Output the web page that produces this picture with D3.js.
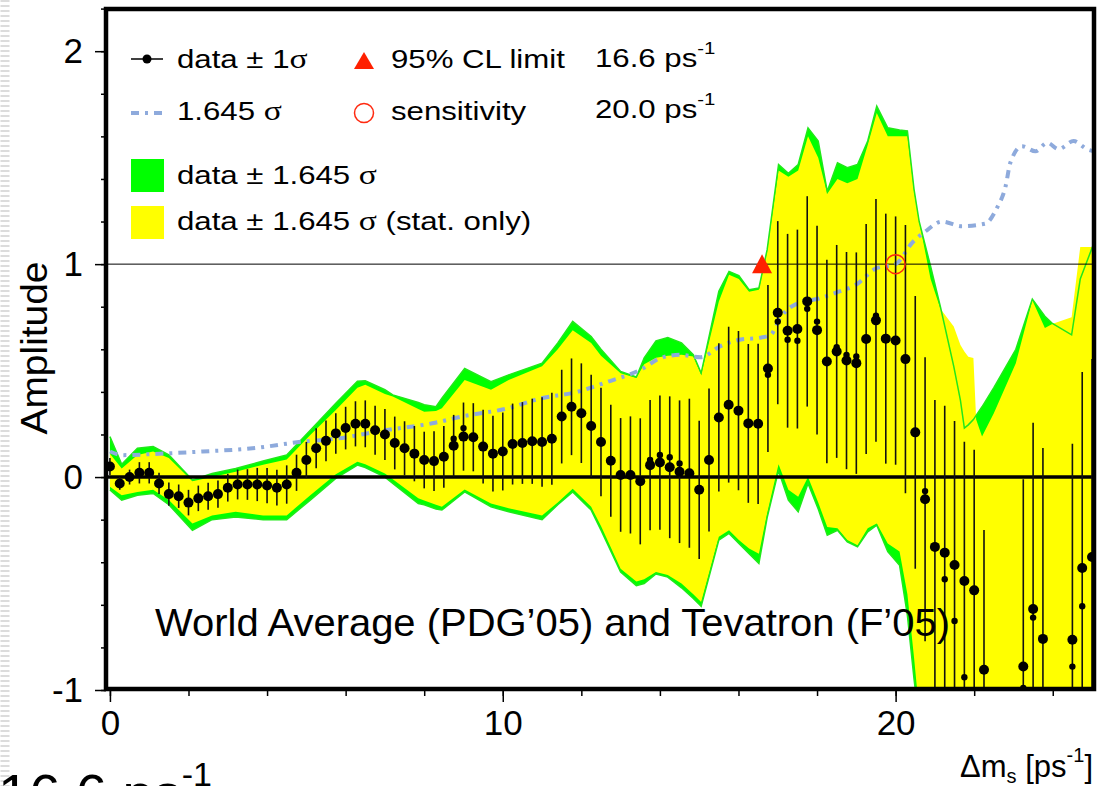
<!DOCTYPE html>
<html>
<head>
<meta charset="utf-8">
<script src="https://cdn.jsdelivr.net/npm/d3@7"></script>
<style>
    body { margin: 0; background: #fff; }
    svg { display: block; font-family: "Liberation Sans", Arial, Helvetica, sans-serif; }
</style>
</head>
<body>
<svg width="1109" height="786"></svg>
<script>
const width = 1109;
const height = 786;

//--------------------data--------------------
// amplitude scan, one point every 0.25 ps-1 starting at 0
const dmStep = 0.25;
const amp = [
    0.05, -0.03, 0.00, 0.02, 0.02, -0.03, -0.08, -0.09, -0.12, -0.10,
    -0.09, -0.08, -0.05, -0.035, -0.035, -0.035, -0.04, -0.05, -0.035, 0.02,
    0.08, 0.135, 0.17, 0.205, 0.23, 0.25, 0.25, 0.22, 0.20, 0.16,
    0.135, 0.11, 0.08, 0.075, 0.095, 0.147, 0.19, 0.187, 0.143, 0.11,
    0.12, 0.155, 0.16, 0.168, 0.165, 0.18, 0.284, 0.33, 0.30, 0.24,
    0.165, 0.077, 0.01, 0.01, -0.02, 0.056, 0.068, 0.046, 0.025, 0.018,
    -0.06, 0.08, 0.28, 0.34, 0.312, 0.252, 0.25, 0.51, 0.772, 0.687,
    0.695, 0.825, 0.69, 0.543, 0.59, 0.547, 0.535, 0.648, 0.736, 0.65,
    0.641, 0.554, 0.21, -0.104, -0.328, -0.355, -0.413, -0.488, -0.532, -0.905,
    -2.1, -2.3, -2.0, -0.89, -0.62, -0.76, -2.2, -2.4, -0.764, -0.427,
    -0.375
];
// 1 sigma error of each point
const sigma = [
    0.04, 0.03, 0.035, 0.05, 0.05, 0.05, 0.055, 0.055, 0.06, 0.06,
    0.063, 0.064, 0.065, 0.07, 0.072, 0.078, 0.083, 0.084, 0.09, 0.085,
    0.085, 0.094, 0.096, 0.095, 0.10, 0.106, 0.11, 0.115, 0.12, 0.124,
    0.127, 0.13, 0.133, 0.14, 0.145, 0.145, 0.16, 0.16, 0.173, 0.178,
    0.183, 0.19, 0.192, 0.20, 0.21, 0.216, 0.22, 0.227, 0.234, 0.24,
    0.255, 0.263, 0.267, 0.275, 0.296, 0.306, 0.315, 0.333, 0.335, 0.35,
    0.325, 0.336, 0.348, 0.366, 0.374, 0.373, 0.376, 0.392, 0.43, 0.455,
    0.467, 0.494, 0.49, 0.478, 0.50, 0.51, 0.52, 0.54, 0.57, 0.587,
    0.583, 0.63, 0.64, 0.667, 0.69, 0.69, 0.676, 0.654, 0.66, 0.656,
    0.70, 0.72, 0.75, 0.88, 0.875, 0.896, 0.90, 0.90, 0.92, 0.92,
    0.93
];
// smaller markers
const smallX = [8.75, 9.0, 13.75, 14.0, 14.25, 14.5, 16.75, 17.0, 17.25, 17.5, 17.75, 18.0,
    18.5, 18.75, 19.0, 19.5, 20.75, 21.25, 21.5, 21.75, 23.25, 23.5, 24.5, 24.75];
const smallAmp = [0.18, 0.23, 0.08, 0.104, 0.093, 0.064, 0.48, 0.73, 0.645, 0.64, 0.79, 0.73,
    0.61, 0.574, 0.566, 0.758, -0.066, -0.48, -0.676, -0.94, -0.99, -0.66, -0.89, -0.607];

// 1.645 sigma curve
const sensX = [0, 0.33, 1.09, 2.36, 3.63, 4.89, 5.74, 7.01, 8.28, 8.95, 10.13, 10.98, 11.83, 12.68,
    13.52, 14.02, 14.5, 15.04, 15.54, 16.06, 16.5, 16.82, 17.06, 17.56, 17.99, 18.5, 19.0, 19.5,
    20.0, 20.42, 20.76, 21.18, 21.69, 22.28, 22.58, 22.8, 22.92, 23.22, 23.56, 23.86, 24.15,
    24.53, 24.87, 25.05];
const sensY = [0.12, 0.103, 0.108, 0.12, 0.135, 0.166, 0.18, 0.22, 0.255, 0.284, 0.323, 0.37, 0.397, 0.448,
    0.505, 0.559, 0.574, 0.563, 0.615, 0.646, 0.653, 0.668, 0.747, 0.82, 0.836, 0.867, 0.904, 0.98,
    1.0, 1.1, 1.154, 1.2, 1.178, 1.19, 1.264, 1.366, 1.476, 1.554, 1.53, 1.57, 1.54,
    1.578, 1.54, 1.53];

// data +- 1.645 sigma bands (green: total, yellow: stat. only)
const bandX = [0, 0.3, 0.7, 1.1, 1.5, 2.1, 2.6, 3.2, 3.9, 4.5,
    5.1, 5.75, 6.3, 6.5, 7.0, 7.2, 7.85, 8.0, 8.3, 8.45,
    9.03, 9.7, 10.15, 11.0, 11.4, 11.78, 12.25, 12.5, 13.0, 13.4,
    13.6, 13.9, 14.2, 14.55, 14.85, 15.05, 15.5, 15.76, 16.01, 16.27,
    16.52, 16.73, 17.02, 17.27, 17.52, 17.77, 18.03, 18.26, 18.52, 18.77,
    19.03, 19.29, 19.52, 19.8, 20.1, 20.3, 20.47, 20.6, 20.89, 21.14,
    21.48, 21.65, 21.75, 21.85, 21.98, 22.05, 22.2, 22.5, 23.06, 23.48,
    23.8, 24.0, 24.48, 24.7, 25.05];
const greenUp = [0.19, 0.06, 0.135, 0.143, 0.104, -0.014, 0.017, 0.04, 0.075, 0.104,
    0.22, 0.347, 0.45, 0.452, 0.41, 0.386, 0.35, 0.34, 0.33, 0.37,
    0.51, 0.448, 0.48, 0.535, 0.63, 0.731, 0.66, 0.6, 0.496, 0.47,
    0.56, 0.64, 0.655, 0.63, 0.575, 0.488, 0.873, 0.966, 0.946, 0.88,
    0.888, 1.068, 1.468, 1.426, 1.468, 1.64, 1.578, 1.342, 1.476, 1.453,
    1.468, 1.578, 1.742, 1.64, 1.63, 1.625, 1.35, 1.2, 0.99, 0.8,
    0.52, 0.36, 0.23, 0.245, 0.27, 0.29, 0.33, 0.42, 0.6, 0.836,
    0.755, 0.72, 0.668, 0.93, 1.1];
const yellowUp = [0.11, 0.04, 0.104, 0.12, 0.09, -0.02, 0.0, 0.025, 0.058, 0.083,
    0.198, 0.315, 0.42, 0.433, 0.39, 0.378, 0.32, 0.307, 0.31, 0.323,
    0.456, 0.41, 0.456, 0.52, 0.6, 0.69, 0.63, 0.57, 0.488, 0.465,
    0.53, 0.56, 0.57, 0.574, 0.566, 0.48, 0.825, 0.95, 0.93, 0.87,
    0.88, 1.06, 1.44, 1.41, 1.44, 1.6, 1.5, 1.33, 1.4, 1.38,
    1.4, 1.56, 1.71, 1.6, 1.6, 1.6, 1.34, 1.2, 0.93, 0.79,
    0.707, 0.62, 0.59, 0.565, 0.559, 0.27, 0.19, 0.3, 0.535, 0.83,
    0.70, 0.72, 0.75, 1.08, 1.08];
const yellowLow = [-0.045, -0.085, -0.07, -0.06, -0.108, -0.218, -0.18, -0.163, -0.18, -0.18,
    -0.085, 0.013, 0.072, 0.06, 0.017, -0.01, -0.1, -0.11, -0.13, -0.14,
    -0.058, -0.124, -0.147, -0.18, -0.12, -0.055, -0.14, -0.23, -0.43, -0.49,
    -0.48, -0.446, -0.46, -0.5, -0.55, -0.587, -0.28, -0.25, -0.296, -0.336,
    -0.36, -0.17, 0.06, -0.06, -0.093, 0.0, -0.12, -0.234, -0.24, -0.296,
    -0.32, -0.24, -0.218, -0.312, -0.35, -0.55, -0.85, -1.1, -1.3, -1.3,
    -1.3, -1.3, -1.3, -1.3, -1.3, -1.3, -1.3, -1.3, -1.3, -1.3,
    -1.3, -1.3, -1.3, -1.3, -1.3];
const greenLow = [-0.06, -0.108, -0.085, -0.077, -0.13, -0.25, -0.2, -0.187, -0.2, -0.2,
    -0.108, -0.006, 0.056, 0.045, 0.0, -0.03, -0.124, -0.13, -0.15, -0.155,
    -0.07, -0.14, -0.163, -0.2, -0.13, -0.07, -0.155, -0.25, -0.446, -0.51,
    -0.5, -0.455, -0.47, -0.52, -0.57, -0.607, -0.296, -0.265, -0.312, -0.36,
    -0.406, -0.19, 0.03, -0.108, -0.163, -0.03, -0.15, -0.273, -0.25, -0.304,
    -0.328, -0.257, -0.226, -0.35, -0.414, -0.65, -0.95, -1.15, -1.3, -1.3,
    -1.3, -1.3, -1.3, -1.3, -1.3, -1.3, -1.3, -1.3, -1.3, -1.3,
    -1.3, -1.3, -1.3, -1.3, -1.3];

const limitPoint = [16.6, 1];
const sensPoint = [20.0, 1];

const xTicks = [0, 10, 20];
const xMinorTicks = [0, 2, 4, 6, 8, 10, 12, 14, 16, 18, 20, 22, 24];
const yTicks = [-1, 0, 1, 2];
const yTickLabels = ["-1", "0", "1", "2"];
const yMinorTicks = [-1, -0.8, -0.6, -0.4, -0.2, 0, 0.2, 0.4, 0.6, 0.8, 1, 1.2, 1.4, 1.6, 1.8, 2, 2.2];

const legendValues = ["16.6", "20.0"];
const noteText = "World Average (PDG\u201905) and Tevatron (F\u201905)";

//--------------------scales--------------------
const x = d3.scaleLinear().domain([-0.1, 25.05]).range([106, 1094]);
const y = d3.scaleLinear().domain([-1, 2.2]).range([690, 8.6]);

const svg = d3.select("svg");

svg.append("defs").append("clipPath")
    .attr("id", "plot")
    .append("rect")
    .attr("x", 106).attr("y", 9)
    .attr("width", 988).attr("height", 680);

//--------------------page decoration--------------------
function drawPageBits() {
    // dashed slide border on the far left
    svg.append("line")
        .attr("x1", 5).attr("y1", 0)
        .attr("x2", 5).attr("y2", height)
        .attr("stroke", "#dcdcdc")
        .attr("stroke-width", 9)
        .attr("stroke-dasharray", "2,3");

    // big text of the slide below, only its top shows
    const t = svg.append("text")
        .attr("x", -2)
        .attr("y", 813)
        .attr("font-size", 56)
        .attr("fill", "#000")
        .text(legendValues[0] + " ps");
    t.append("tspan")
        .attr("dy", -27)
        .attr("font-size", 34)
        .text("-1");
}

//--------------------bands--------------------
function drawBands() {
    const g = svg.append("g").attr("clip-path", "url(#plot)");
    const idx = d3.range(bandX.length);

    const green = d3.area()
        .x(i => x(bandX[i]))
        .y0(i => y(greenLow[i]))
        .y1(i => y(greenUp[i]));
    const yellow = d3.area()
        .x(i => x(bandX[i]))
        .y0(i => y(yellowLow[i]))
        .y1(i => y(yellowUp[i]));

    g.append("path").datum(idx).attr("d", green).attr("fill", "#00ff00");
    g.append("path").datum(idx).attr("d", yellow).attr("fill", "#ffff00");

    // thin green outline of the total band
    const upLine = d3.line().x(i => x(bandX[i])).y(i => y(greenUp[i]));
    const lowLine = d3.line().x(i => x(bandX[i])).y(i => y(greenLow[i]));
    [upLine, lowLine].forEach(l => {
        g.append("path").datum(idx).attr("d", l)
            .attr("fill", "none")
            .attr("stroke", "#22e81a")
            .attr("stroke-width", 1.5);
    });
}

//--------------------reference lines + sensitivity curve--------------------
function drawLines() {
    const g = svg.append("g").attr("clip-path", "url(#plot)");

    g.append("line")
        .attr("x1", 106).attr("x2", 1094)
        .attr("y1", y(1)).attr("y2", y(1))
        .attr("stroke", "#000")
        .attr("stroke-width", 1);

    g.append("line")
        .attr("x1", 106).attr("x2", 1094)
        .attr("y1", y(0)).attr("y2", y(0))
        .attr("stroke", "#000")
        .attr("stroke-width", 3.5);

    const sens = d3.line()
        .x(i => x(sensX[i]))
        .y(i => y(sensY[i]))
        .curve(d3.curveMonotoneX);

    g.append("path")
        .datum(d3.range(sensX.length))
        .attr("d", sens)
        .attr("fill", "none")
        .attr("stroke", "#8eaadc")
        .attr("stroke-width", 4)
        .attr("stroke-dasharray", "8,6,3,6");
}

//--------------------points--------------------
function drawPoints() {
    const g = svg.append("g").attr("clip-path", "url(#plot)");

    g.selectAll(".err")
        .data(amp)
        .enter()
        .append("line")
        .attr("x1", (d, i) => x(i * dmStep))
        .attr("x2", (d, i) => x(i * dmStep))
        .attr("y1", (d, i) => y(d - sigma[i]))
        .attr("y2", (d, i) => y(d + sigma[i]))
        .attr("stroke", "#111")
        .attr("stroke-width", 1.6);

    g.selectAll(".dot")
        .data(amp)
        .enter()
        .append("circle")
        .attr("cx", (d, i) => x(i * dmStep))
        .attr("cy", d => y(d))
        .attr("r", 5)
        .attr("fill", "#000");

    g.selectAll(".sdot")
        .data(smallAmp)
        .enter()
        .append("circle")
        .attr("cx", (d, i) => x(smallX[i]))
        .attr("cy", d => y(d))
        .attr("r", 3.2)
        .attr("fill", "#000");

    // 95% CL limit and sensitivity markers
    const tx = x(limitPoint[0]);
    const ty = y(limitPoint[1]);
    g.append("path")
        .attr("d", `M${tx},${ty - 10}L${tx + 10},${ty + 9}L${tx - 10},${ty + 9}Z`)
        .attr("fill", "#ff2000");

    g.append("circle")
        .attr("cx", x(sensPoint[0]))
        .attr("cy", y(sensPoint[1]))
        .attr("r", 9.5)
        .attr("fill", "none")
        .attr("stroke", "#ff2a10")
        .attr("stroke-width", 1.5);
}

//--------------------axes + frame--------------------
function drawAxes() {
    const yMinor = d3.axisLeft(y).tickValues(yMinorTicks).tickSize(5).tickFormat("");
    const yMajor = d3.axisLeft(y).tickValues(yTicks).tickSize(11).tickPadding(12)
        .tickFormat((d, i) => yTickLabels[i]);
    const xMinor = d3.axisBottom(x).tickValues(xMinorTicks).tickSize(7).tickFormat("");
    const xMajor = d3.axisBottom(x).tickValues(xTicks).tickSize(13).tickPadding(8);

    svg.append("g").attr("transform", "translate(106,0)").call(yMinor);
    svg.append("g").attr("transform", "translate(106,0)").call(yMajor);
    svg.append("g").attr("transform", "translate(0,689)").call(xMinor);
    svg.append("g").attr("transform", "translate(0,689)").call(xMajor);

    svg.selectAll(".domain").remove();
    svg.selectAll(".tick line").attr("stroke", "#000").attr("stroke-width", 1.5);
    svg.selectAll(".tick text")
        .attr("font-size", 35)
        .attr("font-family", "Liberation Sans, Arial, sans-serif")
        .attr("fill", "#000");

    svg.append("rect")
        .attr("x", 106).attr("y", 9)
        .attr("width", 988).attr("height", 680)
        .attr("fill", "none")
        .attr("stroke", "#000")
        .attr("stroke-width", 4.5);

    // axis titles
    svg.append("text")
        .attr("transform", "translate(47,348) rotate(-90)")
        .attr("text-anchor", "middle")
        .attr("font-size", 36)
        .attr("textLength", 173)
        .attr("lengthAdjust", "spacingAndGlyphs")
        .text("Amplitude");

    const xt = svg.append("text")
        .attr("x", 1093)
        .attr("y", 777)
        .attr("text-anchor", "end")
        .attr("font-size", 31);
    xt.append("tspan").text("\u0394m");
    xt.append("tspan").attr("font-size", 20).attr("dy", 6).text("s");
    xt.append("tspan").attr("dy", -6).text(" [ps");
    xt.append("tspan").attr("font-size", 20).attr("dy", -15).text("-1");
    xt.append("tspan").attr("dy", 15).text("]");

    svg.append("text")
        .attr("x", 155)
        .attr("y", 636)
        .attr("font-size", 39)
        .attr("textLength", 795)
        .attr("lengthAdjust", "spacingAndGlyphs")
        .attr("fill", "#000")
        .text(noteText);
}

//--------------------legend--------------------
function legendText(x0, y0, parts) {
    const t = svg.append("text")
        .attr("transform", `translate(${x0},${y0}) scale(1.2,1)`)
        .attr("font-size", 26)
        .attr("fill", "#000");
    parts.forEach(p => {
        const s = t.append("tspan").text(p.t);
        if (p.serif) s.attr("font-family", "Liberation Serif, DejaVu Serif, serif").attr("font-size", 28);
        if (p.sup) s.attr("font-size", 17).attr("dy", -13);
    });
}

function drawLegend() {
    // row 1
    svg.append("line")
        .attr("x1", 131).attr("x2", 163)
        .attr("y1", 59).attr("y2", 59)
        .attr("stroke", "#000").attr("stroke-width", 1.5);
    svg.append("circle").attr("cx", 147).attr("cy", 59).attr("r", 4.5).attr("fill", "#000");
    legendText(177, 68, [{ t: "data \u00b1 1" }, { t: "\u03c3", serif: true }]);

    svg.append("path").attr("d", "M364,52L374,69L354,69Z").attr("fill", "#ff2000");
    legendText(391, 68, [{ t: "95% CL limit" }]);
    legendText(595, 67, [{ t: legendValues[0] + " ps" }, { t: "-1", sup: true }]);

    // row 2
    svg.append("line")
        .attr("x1", 131).attr("x2", 163)
        .attr("y1", 113).attr("y2", 113)
        .attr("stroke", "#8eaadc").attr("stroke-width", 4)
        .attr("stroke-dasharray", "8,6,3,6");
    legendText(177, 120, [{ t: "1.645 " }, { t: "\u03c3", serif: true }]);

    svg.append("circle")
        .attr("cx", 364).attr("cy", 113).attr("r", 9.5)
        .attr("fill", "none").attr("stroke", "#ff2a10").attr("stroke-width", 1.5);
    legendText(391, 120, [{ t: "sensitivity" }]);
    legendText(595, 118, [{ t: legendValues[1] + " ps" }, { t: "-1", sup: true }]);

    // rows 3, 4
    svg.append("rect").attr("x", 131).attr("y", 159).attr("width", 33).attr("height", 33).attr("fill", "#00ff00");
    legendText(177, 184, [{ t: "data \u00b1 1.645 " }, { t: "\u03c3", serif: true }]);

    svg.append("rect").attr("x", 131).attr("y", 206).attr("width", 33).attr("height", 33).attr("fill", "#ffff00");
    legendText(177, 230, [{ t: "data \u00b1 1.645 " }, { t: "\u03c3", serif: true }, { t: " (stat. only)" }]);
}

drawPageBits();
drawBands();
drawLines();
drawPoints();
drawAxes();
drawLegend();
</script>
</body>
</html>
